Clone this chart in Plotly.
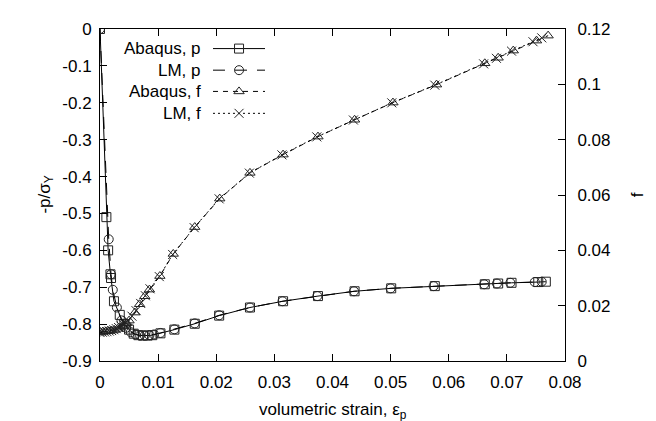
import plotly.graph_objects as go

# ---------------- data ----------------
abq_p_x = [0, 0.0011, 0.0014, 0.0018, 0.0019, 0.0024, 0.0034, 0.0042, 0.0050, 0.0058, 0.0066,
           0.0074, 0.0082, 0.0090, 0.0104, 0.0128, 0.0163, 0.0205, 0.0258, 0.0315, 0.0375,
           0.0438, 0.0501, 0.0576, 0.0662, 0.0685, 0.0708, 0.0754, 0.0767]
abq_p_y = [0, -0.51, -0.60, -0.665, -0.675, -0.738, -0.775, -0.80, -0.815, -0.826, -0.830,
           -0.831, -0.831, -0.830, -0.825, -0.815, -0.799, -0.777, -0.755, -0.738, -0.724,
           -0.711, -0.703, -0.697, -0.692, -0.690, -0.688, -0.686, -0.685]

lm_p_x = [0, 0.0015, 0.0019, 0.0022, 0.0029, 0.0037, 0.0045, 0.0053, 0.0061, 0.0069, 0.0077,
          0.0085, 0.0093, 0.0104, 0.0128, 0.0163, 0.0205, 0.0258, 0.0314, 0.0374, 0.0437,
          0.0500, 0.0574, 0.0661, 0.0683, 0.0706, 0.0748, 0.0760]
lm_p_y = [0, -0.57, -0.665, -0.707, -0.755, -0.790, -0.810, -0.822, -0.828, -0.831, -0.831,
          -0.830, -0.828, -0.824, -0.814, -0.798, -0.776, -0.755, -0.738, -0.724, -0.711,
          -0.703, -0.697, -0.692, -0.690, -0.688, -0.686, -0.685]

abq_f_x = [0, 0.0005, 0.0010, 0.0015, 0.0020, 0.0025, 0.0030, 0.0035, 0.0040, 0.0045, 0.0050,
           0.0060, 0.0068, 0.0077, 0.0085, 0.0103, 0.0126, 0.0163, 0.0206, 0.0258, 0.0315,
           0.0375, 0.0438, 0.0504, 0.0579, 0.0662, 0.0685, 0.0711, 0.0751, 0.0771]
abq_f_y = [0.0105, 0.0106, 0.0107, 0.0108, 0.0110, 0.0112, 0.0116, 0.0121, 0.0128, 0.0136, 0.0146,
           0.0175, 0.0205, 0.0234, 0.0258, 0.0307, 0.0387, 0.0484, 0.0587, 0.0680, 0.0746,
           0.0811, 0.0872, 0.0934, 0.0999, 0.1076, 0.1096, 0.1122, 0.1158, 0.1176]

lm_f_x = [0, 0.0004, 0.0008, 0.0012, 0.0016, 0.0020, 0.0024, 0.0028, 0.0032, 0.0036, 0.0040,
          0.0044, 0.0048, 0.0055, 0.0062, 0.0070, 0.0078, 0.0086, 0.0102, 0.0125, 0.0162,
          0.0205, 0.0257, 0.0313, 0.0373, 0.0436, 0.0502, 0.0576, 0.0660, 0.0682, 0.0708,
          0.0745, 0.0760]
lm_f_y = [0.0103, 0.0104, 0.0105, 0.0106, 0.0108, 0.0110, 0.0113, 0.0117, 0.0121, 0.0126, 0.0132,
          0.0139, 0.0146, 0.0162, 0.0182, 0.0208, 0.0236, 0.0261, 0.0305, 0.0385, 0.0482,
          0.0586, 0.0679, 0.0745, 0.0810, 0.0871, 0.0933, 0.0997, 0.1074, 0.1094, 0.1120,
          0.1154, 0.1168]

x_ticks = [0, 0.01, 0.02, 0.03, 0.04, 0.05, 0.06, 0.07, 0.08]
x_ticktext = ["0", "0.01", "0.02", "0.03", "0.04", "0.05", "0.06", "0.07", "0.08"]
y_ticks = [0, -0.1, -0.2, -0.3, -0.4, -0.5, -0.6, -0.7, -0.8, -0.9]
y_ticktext = ["0", "-0.1", "-0.2", "-0.3", "-0.4", "-0.5", "-0.6", "-0.7", "-0.8", "-0.9"]
y2_ticks = [0, 0.02, 0.04, 0.06, 0.08, 0.10, 0.12]
y2_ticktext = ["0", "0.02", "0.04", "0.06", "0.08", "0.1", "0.12"]

series_names = ["Abaqus, p", "LM, p", "Abaqus, f", "LM, f"]

# ---------------- styles ----------------
FONT = "Liberation Sans, Arial, sans-serif"
FS = 17
styles = [
    dict(dash="solid", symbol="square-open", size=9),
    dict(dash="12px,10px", symbol="circle-open", size=9),
    dict(dash="5px,5px", symbol="triangle-up-open", size=9),
    dict(dash="2px,3px", symbol="x-thin-open", size=9),
]
data_sets = [(abq_p_x, abq_p_y, "y"), (lm_p_x, lm_p_y, "y"),
             (abq_f_x, abq_f_y, "y2"), (lm_f_x, lm_f_y, "y2")]

fig = go.Figure()
for (xs, ys, ax), st, name in zip(data_sets, styles, series_names):
    fig.add_trace(go.Scatter(
        x=xs, y=ys, yaxis=ax, name=name, mode="lines+markers",
        line=dict(color="black", width=1, dash=st["dash"]),
        marker=dict(symbol=st["symbol"], size=st["size"], color="#222",
                    line=dict(color="#222", width=1)),
        showlegend=False))

# ---- manual gnuplot-style legend (text left, sample right) ----
rows = [0.941, 0.876, 0.812, 0.746]
for st, name, ry in zip(styles, series_names, rows):
    fig.add_trace(go.Scatter(
        x=[0, 1], y=[ry, ry], xaxis="x3", yaxis="y3", mode="lines",
        line=dict(color="black", width=1, dash=st["dash"]),
        showlegend=False, hoverinfo="skip"))
    fig.add_trace(go.Scatter(
        x=[0.5], y=[ry], xaxis="x3", yaxis="y3", mode="markers",
        marker=dict(symbol=st["symbol"], size=st["size"], color="#222",
                    line=dict(color="#222", width=1)),
        showlegend=False, hoverinfo="skip"))
    fig.add_annotation(x=0.2215, y=ry, xref="paper", yref="paper", text=name,
                       showarrow=False, xanchor="right", yanchor="middle",
                       font=dict(family=FONT, size=FS, color="black"))

axis_common = dict(showgrid=False, zeroline=False, showline=True, linecolor="black",
                   linewidth=1, ticks="inside", ticklen=7, tickcolor="black",
                   tickfont=dict(family=FONT, size=FS, color="black"))

fig.update_layout(
    width=656, height=421,
    margin=dict(l=92, r=99, t=13, b=68),
    paper_bgcolor="white", plot_bgcolor="rgba(0,0,0,0)",
    font=dict(family=FONT, size=FS, color="black"),
    xaxis=dict(range=[0, 0.08], tickvals=x_ticks, ticktext=x_ticktext,
               mirror="ticks", ticklabelstandoff=6, **axis_common),
    yaxis=dict(range=[-0.9, 0], tickvals=y_ticks, ticktext=y_ticktext,
               mirror=False, ticklabelstandoff=4, **axis_common),
    yaxis2=dict(range=[0, 0.12], tickvals=y2_ticks, ticktext=y2_ticktext,
                overlaying="y", side="right", anchor="x", ticklabelstandoff=8,
                **axis_common),
    xaxis3=dict(domain=[0.243, 0.355], range=[0, 1], visible=False, anchor="y3"),
    yaxis3=dict(domain=[0, 1], range=[0, 1], visible=False, anchor="x3"),
)

fig.add_annotation(x=-0.145, y=0.5, xref="paper", yref="paper",
                   text="-p/σ<sub>Y</sub>", textangle=-90, showarrow=False,
                   font=dict(family=FONT, size=FS, color="black"))
fig.add_annotation(x=1.18, y=0.5, xref="paper", yref="paper",
                   text="f", textangle=-90, showarrow=False,
                   font=dict(family=FONT, size=FS, color="black"))
fig.add_annotation(x=0.5, y=-0.15, xref="paper", yref="paper",
                   text="volumetric strain, ε<sub>p</sub>", showarrow=False,
                   yanchor="middle",
                   font=dict(family=FONT, size=FS, color="black"))

fig.write_html("out.html")
